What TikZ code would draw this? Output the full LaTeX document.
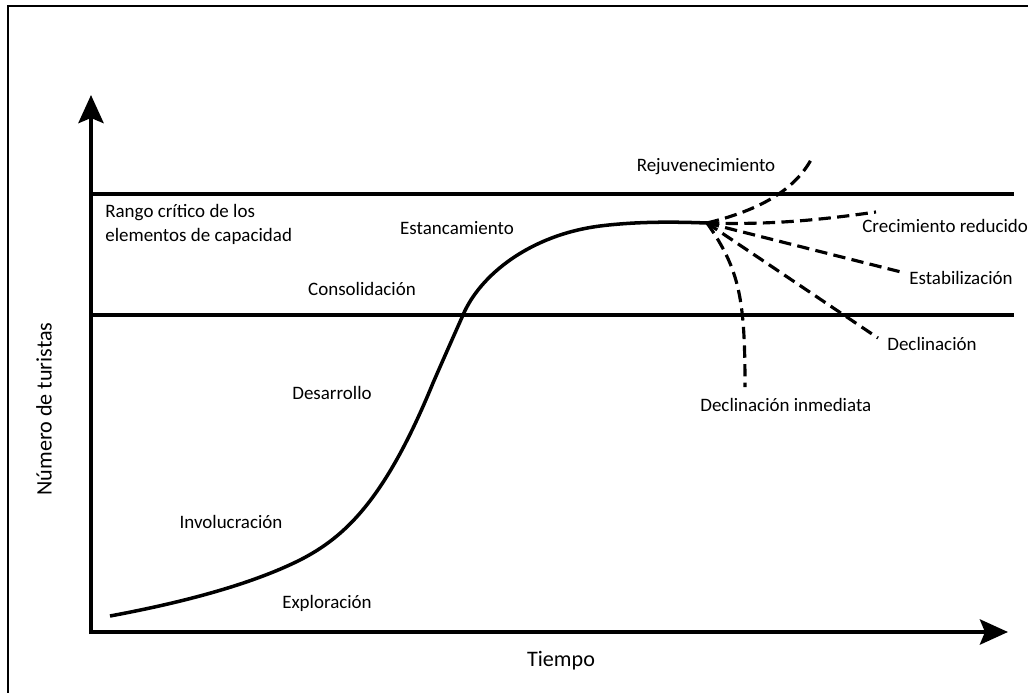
\documentclass[tikz,border=0pt]{standalone}
\usepackage{fontspec}
\setmainfont{Carlito}
\usetikzlibrary{arrows.meta}
\tikzset{
  axis/.style={line width=2.6pt,-{Stealth[length=0.56cm,width=0.5cm,inset=0.1cm]}},
  limit/.style={line width=1.9pt},
  branch/.style={line width=1.8pt,dash pattern=on 7pt off 3.6pt},
  lbl/.style={font=\fontsize{10.8}{13.6}\selectfont,inner sep=0pt},
  axlbl/.style={font=\fontsize{12.6}{15}\selectfont,inner sep=0pt}
}
\begin{document}
\begin{tikzpicture}[x=0.02cm,y=-0.02cm]
      \useasboundingbox (0,0) rectangle (1028,693);
      %\draw[step=50,gray,very thin] (0,0) grid (1028,693);
      \draw[line width=1.1pt] (8,693) -- (8,6) -- (1028,6);
      \coordinate (origin) at (91,632);
      \coordinate (ytip) at (91,95);
      \coordinate (xtip) at (1008,632);
      \draw[axis] (91,634) -- (ytip);
      \draw[axis] (89,632) -- (xtip);
      \draw[limit] (91,194) -- (1014,194);
      \draw[limit] (91,315) -- (1014,315);
      \node[axlbl,rotate=90] (numero) at (44,409) {Número de turistas};
      \node[axlbl] (tiempo) at (561,661) {Tiempo};
      \node[lbl,right,align=left] (rango) at (105,224) {Rango crítico de los\\elementos de capacidad};
      % ciclo de vida
      \coordinate (peak) at (707,223);
      \draw[line width=2pt] (110,616) .. controls (180,603) and (250,585) .. (300,560)
        .. controls (345,537) and (385,500) .. (433,383)
        .. controls (443,360) and (455,333) .. (463,315)
        .. controls (480,275) and (530,235) .. (600,226)
        .. controls (640,221) and (680,222) .. (peak);
      \node[lbl] (explo) at (327,603) {Exploración};
      \node[lbl] (invol) at (231,522) {Involucración};
      \node[lbl] (desar) at (332,393) {Desarrollo};
      \node[lbl] (conso) at (362,289) {Consolidación};
      \node[lbl] (estan) at (457,228) {Estancamiento};
      % escenarios
      \coordinate (rejend) at (812,158);
      \coordinate (creend) at (876,212);
      \coordinate (estend) at (905,273);
      \coordinate (decend) at (878,338);
      \coordinate (inmend) at (745,387);
      \draw[branch] (peak) .. controls (760,210) and (795,190) .. (rejend);
      \draw[branch] (peak) .. controls (770,225) and (820,220) .. (creend);
      \draw[branch] (peak) -- (estend);
      \draw[branch] (peak) -- (decend);
      \draw[branch] (peak) .. controls (740,270) and (745,300) .. (inmend);
      \node[lbl] (rejuv) at (706,167) {Rejuvenecimiento};
      \node[lbl,right] (crec) at (862,226) {Crecimiento reducido};
      \node[lbl,right] (estab) at (909,278) {Estabilización};
      \node[lbl,right] (decl) at (887,344) {Declinación};
      \node[lbl,right] (inmed) at (700,405) {Declinación inmediata};
\end{tikzpicture}
\end{document}
